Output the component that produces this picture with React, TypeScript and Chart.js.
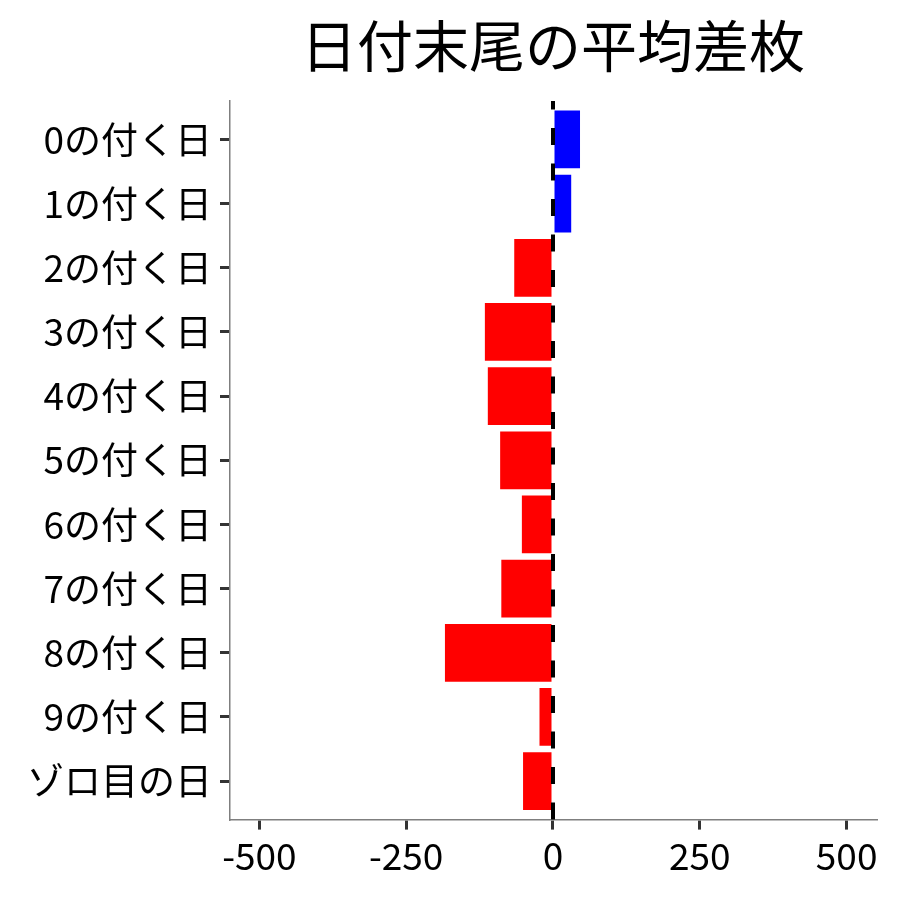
import React, { useEffect, useRef } from 'react'
import Chart, { ChartConfiguration } from 'chart.js/auto'

const title = '日付末尾の平均差枚'
const categories = [
  '0の付く日', '1の付く日', '2の付く日', '3の付く日', '4の付く日', '5の付く日',
  '6の付く日', '7の付く日', '8の付く日', '9の付く日', 'ゾロ目の日',
]
const avgDiff = [46, 31, -66, -116, -111, -90, -53, -88, -184, -23, -51]
const xTicks = [-500, -250, 0, 250, 500]

const font = '"Noto Sans CJK JP", "Noto Sans", sans-serif'

// title centred over the plot panel, dashed zero line over the bars
const extras = {
  id: 'extras',
  afterDatasetsDraw(chart: any) {
    const { ctx, chartArea, scales } = chart
    const x0 = scales.x.getPixelForValue(0)
    ctx.save()
    ctx.strokeStyle = '#000000'
    ctx.lineWidth = 4
    ctx.setLineDash([17, 18.5])
    ctx.beginPath()
    ctx.moveTo(x0, chartArea.bottom)
    ctx.lineTo(x0, chartArea.top)
    ctx.stroke()
    ctx.restore()
  },
  afterDraw(chart: any) {
    const { ctx, chartArea } = chart
    ctx.save()
    ctx.fillStyle = '#000000'
    ctx.font = `56px ${font}`
    ctx.textAlign = 'center'
    ctx.textBaseline = 'middle'
    ctx.fillText(title, (chartArea.left + chartArea.right) / 2, 46)
    ctx.restore()
  },
}

const BarChart = () => {
  const chartContainer = useRef<HTMLCanvasElement>(null)

  useEffect(() => {
    document.body.style.margin = '0'
    if (chartContainer.current) {
      const ctx = chartContainer.current.getContext('2d')
      if (ctx) {
        const chartConfig: ChartConfiguration<any> = {
          type: 'bar',
          data: {
            datasets: [
              {
                data: avgDiff.map((v, i) => ({ x: v, y: i })),
                backgroundColor: avgDiff.map((v) => (v >= 0 ? '#0000FF' : '#FF0000')),
                borderWidth: 0,
                barPercentage: 0.9,
                categoryPercentage: 1,
              },
            ],
          },
          options: {
            indexAxis: 'y',
            responsive: false,
            animation: false,
            layout: { padding: { top: 101, left: 19, right: 24, bottom: 18 } },
            plugins: {
              legend: { display: false },
              title: { display: false },
              tooltip: { enabled: false },
            },
            scales: {
              x: {
                type: 'linear',
                min: -550,
                max: 550,
                afterBuildTicks: (axis: any) => {
                  axis.ticks = xTicks.map((v) => ({ value: v }))
                },
                grid: {
                  drawOnChartArea: false,
                  drawTicks: true,
                  tickLength: 10,
                  color: '#333333',
                  lineWidth: 3,
                },
                border: { color: '#7f7f7f', width: 1.5 },
                ticks: {
                  color: '#000000',
                  padding: 4,
                  maxRotation: 0,
                  font: { family: font, size: 37 },
                },
              },
              y: {
                type: 'linear',
                reverse: true,
                offset: false,
                min: -0.6,
                max: categories.length - 0.4,
                afterBuildTicks: (axis: any) => {
                  axis.ticks = categories.map((_, i) => ({ value: i }))
                },
                grid: {
                  offset: false,
                  drawOnChartArea: false,
                  drawTicks: true,
                  tickLength: 10,
                  color: '#333333',
                  lineWidth: 3,
                },
                border: { color: '#7f7f7f', width: 1.5 },
                ticks: {
                  color: '#000000',
                  padding: 8,
                  font: { family: font, size: 37 },
                  callback: (value: any) => categories[value] ?? '',
                },
              },
            },
          },
          plugins: [extras],
        }
        const myBarChart = new Chart(ctx, chartConfig)
        return () => myBarChart.destroy()
      }
    }
  }, [])

  return <canvas width={900} height={900} style={{ display: 'block' }} ref={chartContainer} />
}

export default function App() {
  return <BarChart />
}
